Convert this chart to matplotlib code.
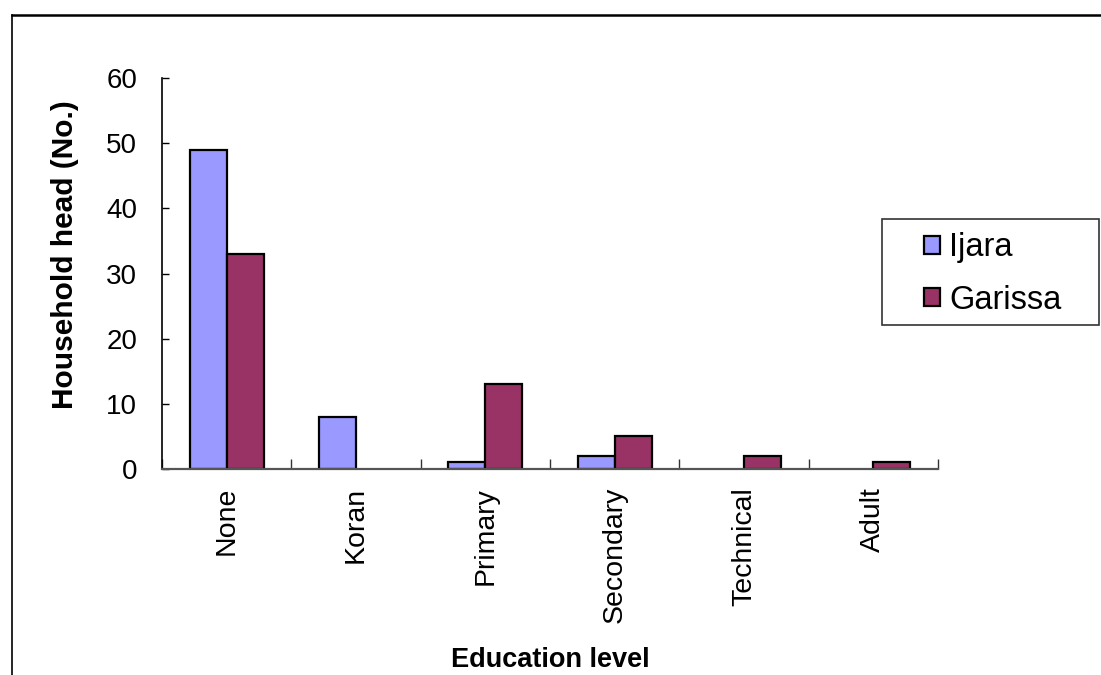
import matplotlib
matplotlib.use("Agg")
import matplotlib.pyplot as plt
from matplotlib.lines import Line2D
from matplotlib.patches import Patch, Rectangle
import numpy as np

categories = ["None", "Koran", "Primary", "Secondary", "Technical", "Adult"]
ijara = [49, 8, 1, 2, 0, 0]
garissa = [33, 0, 13, 5, 2, 1]
series_names = ["Ijara", "Garissa"]
yticks = [0, 10, 20, 30, 40, 50, 60]

plt.rcParams['font.family'] = ['Liberation Sans', 'DejaVu Sans']

W, H = 1101, 675
fig = plt.figure(figsize=(W/100, H/100), dpi=100)
ax = fig.add_axes([162/W, 1-469/H, (938-162)/W, (469-78)/H])

x = np.arange(len(categories))
w = 0.286
c1, c2 = "#9999FF", "#993366"
lw1 = [1.6 if v > 0 else 0 for v in ijara]
lw2 = [1.6 if v > 0 else 0 for v in garissa]
ax.bar(x - w/2, ijara, width=w, color=c1, edgecolor="black", linewidth=lw1, zorder=2)
ax.bar(x + w/2, garissa, width=w, color=c2, edgecolor="black", linewidth=lw2, zorder=2)

ax.set_xlim(-0.5, len(categories) - 0.5)
ax.set_ylim(0, 60)
ax.set_yticks(yticks)
ax.set_yticklabels([str(v) for v in yticks], fontsize=20)
ax.set_xticks(x)
ax.set_xticklabels(categories, rotation=90, fontsize=20.5, va='top')
ax.set_xticks(np.arange(len(categories) + 1) - 0.5, minor=True)
ax.tick_params(axis='x', which='major', length=0, pad=13)
ax.tick_params(axis='x', which='minor', length=7, direction='in', width=1, color='#333333')
ax.tick_params(axis='y', length=5, direction='in', width=1, pad=18)
for s in ['top', 'right']:
    ax.spines[s].set_visible(False)
ax.spines['left'].set_color('black')
ax.spines['bottom'].set_color('#555555')
ax.spines['left'].set_linewidth(1.2)
ax.spines['bottom'].set_linewidth(1.6)
ax.spines['bottom'].set_zorder(3)

fig.text(65/W, 1-255/H, "Household head (No.)", rotation=90, ha='center', va='center',
         fontsize=21.5, fontweight='bold')
fig.text(550/W, 1-660/H, "Education level", ha='center', va='center',
         fontsize=19.5, fontweight='bold')

# legend box
fig.add_artist(Rectangle((882/W, 1-325/H), (1099-882)/W, (325-219)/H, transform=fig.transFigure,
                         facecolor='white', edgecolor='#333333', linewidth=1.2))
handles = [Patch(facecolor=c1, edgecolor='black', linewidth=1.6),
           Patch(facecolor=c2, edgecolor='black', linewidth=1.6)]
leg = fig.legend(handles, series_names, loc='center left',
                 bbox_to_anchor=(924/W, 1-274/H), fontsize=23.5, frameon=False,
                 handlelength=0.5, handleheight=0.5, handletextpad=0.28,
                 borderpad=0, labelspacing=0.65, borderaxespad=0)

# outer frame (extends beyond the image on right and bottom)
fig.add_artist(Line2D([12/W, 1.0], [1-15/H, 1-15/H], transform=fig.transFigure,
                      color='black', linewidth=1.8))
fig.add_artist(Line2D([12/W, 12/W], [1-15/H, 0.0], transform=fig.transFigure,
                      color='black', linewidth=1.2))

fig.savefig("out.png", dpi=100)
